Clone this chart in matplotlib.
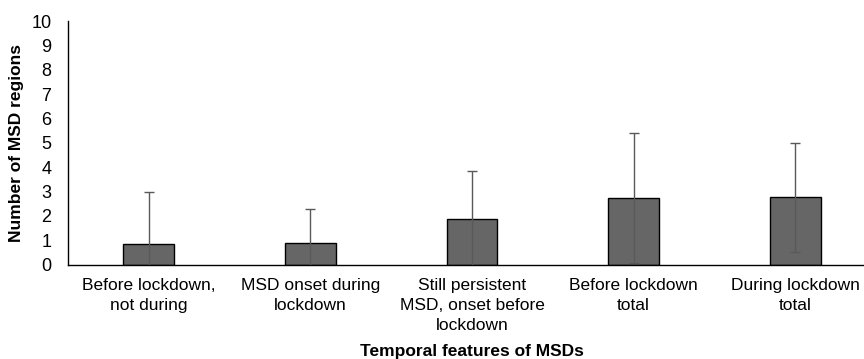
import matplotlib
matplotlib.use("Agg")
import matplotlib.pyplot as plt
import numpy as np

plt.rcParams['font.family'] = ['Liberation Sans', 'DejaVu Sans']

categories = ["Before lockdown,\nnot during", "MSD onset during\nlockdown",
              "Still persistent\nMSD, onset before\nlockdown", "Before lockdown\ntotal",
              "During lockdown\ntotal"]
means = [0.86, 0.89, 1.88, 2.73, 2.76]
errors = [2.10, 1.37, 1.97, 2.66, 2.24]
yticks = list(range(0, 11))

fig = plt.figure(figsize=(8.64, 3.59), dpi=100)
ax = fig.add_axes([68/864, 1 - 264.5/359, 808/864, (264.5 - 21)/359])

x = np.arange(len(categories))
ax.bar(x, means, width=0.315, color='#666666', edgecolor='black', linewidth=1.0, zorder=2)
ax.errorbar(x, means, yerr=errors, fmt='none', ecolor='#595959', elinewidth=1.0,
            capsize=3.5, capthick=1.0, zorder=3)

ax.set_xlim(-0.5, len(categories) - 0.5)
ax.set_ylim(0, 10)
ax.set_yticks(yticks)
ax.set_yticklabels([str(t) for t in yticks], fontsize=13)
ax.set_xticks(x)
ax.set_xticklabels(categories, fontsize=12.5, linespacing=1.4)
ax.tick_params(axis='x', length=0, pad=10)
ax.tick_params(axis='y', length=0, pad=12)

for s in ['top', 'right']:
    ax.spines[s].set_visible(False)
for s in ['left', 'bottom']:
    ax.spines[s].set_color('black')
    ax.spines[s].set_linewidth(1.0)

ax.set_ylabel("Number of MSD regions", fontsize=12.5, fontweight='bold', labelpad=5)
ax.set_xlabel("Temporal features of MSDs", fontsize=12.5, fontweight='bold')
ax.xaxis.set_label_coords(0.5, -0.328)

fig.savefig("out.png", dpi=100)
